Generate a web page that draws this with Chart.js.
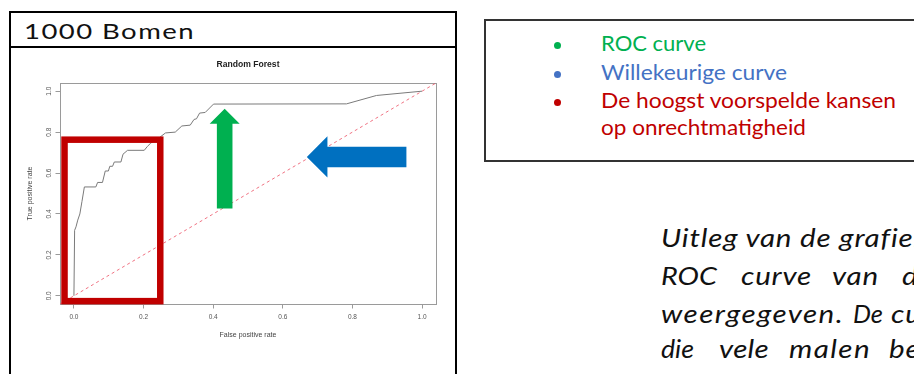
<!DOCTYPE html>
<html>
<head>
<meta charset="utf-8">
<script src="https://cdn.jsdelivr.net/npm/chart.js@4.4.1/dist/chart.umd.min.js"></script>
<style>
html,body{margin:0;padding:0;background:#fff;width:914px;height:374px;overflow:hidden;position:relative;}
.abs{position:absolute;}
#leftBox{left:9px;top:11px;width:444px;height:420px;border:2px solid #000;}
#divider{left:9px;top:46px;width:448px;height:2px;background:#000;}
#chartWrap{left:0;top:0;width:460px;height:374px;}
.txt{position:absolute;white-space:nowrap;font-family:Lato,'Open Sans',sans-serif;line-height:1.2;transform-origin:0 50%;}
#title{left:24px;top:17.6px;font-size:22px;color:#111;}
#legendBox{left:484px;top:19px;width:520px;height:139px;border:2px solid #333;}
.dot{position:absolute;width:7px;height:7px;border-radius:50%;left:553.5px;}
.leg{font-size:21px;left:601px;}
.para{font-size:25.5px;font-style:italic;color:#111;}
</style>
</head>
<body>
<div id="leftBox" class="abs"></div>
<div id="divider" class="abs"></div>
<div id="title" class="txt" data-w="171" data-k="1.25">1000 Bomen</div>
<div id="chartWrap" class="abs"><canvas id="c" width="460" height="374"></canvas></div>

<div id="legendBox" class="abs"></div>
<div class="dot" style="top:41.5px;background:#00b050"></div>
<div class="dot" style="top:70.5px;background:#4472c4"></div>
<div class="dot" style="top:99px;background:#c00000"></div>
<div class="txt leg" style="top:30.3px;color:#00b050" data-w="105">ROC curve</div>
<div class="txt leg" style="top:59.3px;color:#4472c4" data-w="186">Willekeurige curve</div>
<div class="txt leg" style="top:87.3px;color:#c00000" data-w="295">De hoogst voorspelde kansen</div>
<div class="txt leg" style="top:114px;color:#c00000" data-w="205">op onrechtmatigheid</div>

<div id="p1" class="txt para" style="left:661px;top:221.5px"><span id="p1m">Uitleg van de grafie</span>k</div>
<div class="txt para" style="left:661px;top:260.3px" data-w="56">ROC</div>
<div class="txt para" style="left:741px;top:260.3px" data-w="71">curve</div>
<div class="txt para" style="left:832px;top:260.3px" data-w="47">van</div>
<div class="txt para pw" style="left:902px;top:260.3px">de</div>
<div class="txt para" style="left:661px;top:297.8px" data-w="183">weergegeven.</div>
<div class="txt para" style="left:853px;top:297.8px" data-w="30">De</div>
<div class="txt para pw" style="left:891px;top:297.8px">curve</div>
<div class="txt para" style="left:661px;top:332.8px" data-w="33">die</div>
<div class="txt para" style="left:719px;top:332.8px" data-w="50">vele</div>
<div class="txt para" style="left:789px;top:332.8px" data-w="82">malen</div>
<div class="txt para pw" style="left:889px;top:332.8px">beter</div>

<script>
// ---- data ----
const xTickValues = [0, 0.2, 0.4, 0.6, 0.8, 1.0];
const xTickLabels = ['0.0', '0.2', '0.4', '0.6', '0.8', '1.0'];
const yTickValues = [0, 0.2, 0.4, 0.6, 0.8, 1.0];
const yTickLabels = ['0.0', '0.2', '0.4', '0.6', '0.8', '1.0'];
const rocFpr = [0.000, 0.002, 0.006, 0.011, 0.017, 0.023, 0.030, 0.063, 0.068, 0.082, 0.090, 0.099, 0.103, 0.111, 0.116, 0.135, 0.141, 0.154, 0.202, 0.211, 0.221, 0.240, 0.253, 0.263, 0.291, 0.310, 0.334, 0.345, 0.352, 0.361, 0.377, 0.401, 0.783, 0.869, 1.000];
const rocTpr = [0.000, 0.320, 0.337, 0.370, 0.400, 0.460, 0.532, 0.532, 0.554, 0.554, 0.610, 0.610, 0.633, 0.633, 0.654, 0.654, 0.692, 0.711, 0.711, 0.730, 0.747, 0.765, 0.783, 0.796, 0.800, 0.830, 0.834, 0.862, 0.865, 0.893, 0.896, 0.937, 0.938, 0.979, 1.000];
const chanceFpr = [-0.04, 1.04];
const chanceTpr = [-0.04, 1.04];

// annotation anchors in data units
const highlightBox = { x0: -0.027, x1: 0.248, y0: -0.026, y1: 0.763 };
const upArrow = { x: 0.433, tipY: 0.914, tailY: 0.427 };
const leftArrow = { y: 0.6785, tipX: 0.669, tailX: 0.955 };

// ---- text fitting (layout only): mild horizontal stretch + spacing ----
function fitText(el, target, measureEl, maxScale) {
  const m = measureEl || el;
  el.style.letterSpacing = '0px';
  el.style.transform = 'none';
  const w = m.getBoundingClientRect().width;
  const n = m.textContent.length;
  const k = Math.min(target / w, maxScale);
  const ls = (target / k - w) / n;
  el.style.transform = 'scaleX(' + k + ')';
  el.style.letterSpacing = ls + 'px';
  return { k, ls };
}
document.querySelectorAll('[data-w]').forEach(el =>
  fitText(el, parseFloat(el.dataset.w), null, parseFloat(el.dataset.k || '1.16')));
const pf = fitText(document.getElementById('p1'), 252, document.getElementById('p1m'), 1.16);
document.querySelectorAll('.pw').forEach(el => {
  el.style.letterSpacing = pf.ls + 'px';
  el.style.transform = 'scaleX(' + pf.k + ')';
});

// ---- chart ----
const FAM = "'Liberation Sans', Arial, sans-serif";
const toPts = (xs, ys) => xs.map((v, i) => ({ x: v, y: ys[i] }));

const frame = {
  id: 'frame',
  beforeDatasetsDraw(chart) {
    const { ctx, chartArea: a } = chart;
    ctx.save();
    ctx.strokeStyle = '#9a9a9a';
    ctx.lineWidth = 1;
    ctx.strokeRect(Math.round(a.left) + 0.5, Math.round(a.top) + 0.5, Math.round(a.right - a.left), Math.round(a.bottom - a.top));
    ctx.restore();
  },
  afterDatasetsDraw(chart) {
    const { ctx, scales: { x, y } } = chart;
    ctx.save();
    // red highlight rectangle
    ctx.strokeStyle = '#c00000';
    ctx.lineWidth = 6.5;
    const L = x.getPixelForValue(highlightBox.x0), R = x.getPixelForValue(highlightBox.x1);
    const T = y.getPixelForValue(highlightBox.y1), B = y.getPixelForValue(highlightBox.y0);
    ctx.strokeRect(L, T, R - L, B - T);
    // green up arrow
    {
      const cx = x.getPixelForValue(upArrow.x);
      const ty = y.getPixelForValue(upArrow.tipY);
      const by = y.getPixelForValue(upArrow.tailY);
      const sh = 7.8, hh = 15, hl = 15;
      ctx.fillStyle = '#00b050';
      ctx.beginPath();
      ctx.moveTo(cx, ty);
      ctx.lineTo(cx + hh, ty + hl);
      ctx.lineTo(cx + sh, ty + hl);
      ctx.lineTo(cx + sh, by);
      ctx.lineTo(cx - sh, by);
      ctx.lineTo(cx - sh, ty + hl);
      ctx.lineTo(cx - hh, ty + hl);
      ctx.closePath();
      ctx.fill();
    }
    // blue left arrow
    {
      const cy = y.getPixelForValue(leftArrow.y);
      const tx = x.getPixelForValue(leftArrow.tipX);
      const ex = x.getPixelForValue(leftArrow.tailX);
      const sh = 10.3, hh = 20.6, hl = 20.6;
      ctx.fillStyle = '#0070c0';
      ctx.beginPath();
      ctx.moveTo(tx, cy);
      ctx.lineTo(tx + hl, cy - hh);
      ctx.lineTo(tx + hl, cy - sh);
      ctx.lineTo(ex, cy - sh);
      ctx.lineTo(ex, cy + sh);
      ctx.lineTo(tx + hl, cy + sh);
      ctx.lineTo(tx + hl, cy + hh);
      ctx.closePath();
      ctx.fill();
    }
    ctx.restore();
  }
};

new Chart(document.getElementById('c'), {
  type: 'scatter',
  data: {
    datasets: [
      {
        label: 'Willekeurige curve',
        data: toPts(chanceFpr, chanceTpr),
        showLine: true, pointRadius: 0, borderWidth: 1,
        borderColor: 'rgba(236,80,100,0.8)', borderDash: [3, 3], tension: 0
      },
      {
        label: 'ROC curve',
        data: toPts(rocFpr, rocTpr),
        showLine: true, pointRadius: 0, borderWidth: 1,
        borderColor: '#7a7a7a', tension: 0
      }
    ]
  },
  options: {
    responsive: false,
    animation: false,
    layout: { padding: { left: 20, top: 0, right: 24, bottom: 30 } },
    plugins: {
      legend: { display: false },
      tooltip: { enabled: false },
      title: {
        display: true, text: 'Random Forest', fullSize: false,
        color: '#222', font: { family: FAM, size: 8.6, weight: 'bold' },
        padding: { top: 59.84, bottom: 12.84 }
      }
    },
    scales: {
      x: {
        type: 'linear', min: -0.04, max: 1.04,
        afterBuildTicks: s => { s.ticks = xTickValues.map(v => ({ value: v })); },
        afterFit: s => { s.height = 40; },
        ticks: {
          callback: (v, i) => xTickLabels[i], autoSkip: false, maxRotation: 0,
          color: '#555', padding: 4.9, font: { family: FAM, size: 6.5 }
        },
        grid: { drawOnChartArea: false, drawTicks: true, tickLength: 4.5, color: '#9a9a9a', tickColor: '#9a9a9a' },
        border: { display: false },
        title: { display: true, text: 'False positive rate', color: '#444', font: { family: FAM, size: 7 }, padding: { top: 0, bottom: 4.8 } }
      },
      y: {
        type: 'linear', min: -0.04, max: 1.04,
        afterBuildTicks: s => { s.ticks = yTickValues.map(v => ({ value: v })); },
        afterFit: s => { s.width = 40; },
        ticks: {
          callback: (v, i) => yTickLabels[i], autoSkip: false, minRotation: 90, maxRotation: 90,
          crossAlign: 'center', color: '#555', padding: 2.2, font: { family: FAM, size: 6.5 }
        },
        grid: { drawOnChartArea: false, drawTicks: true, tickLength: 4.5, color: '#9a9a9a', tickColor: '#9a9a9a' },
        border: { display: false },
        title: { display: true, text: 'True positive rate', color: '#444', font: { family: FAM, size: 7 }, padding: { top: 6.3, bottom: 0 } }
      }
    }
  },
  plugins: [frame]
});
</script>
</body>
</html>
